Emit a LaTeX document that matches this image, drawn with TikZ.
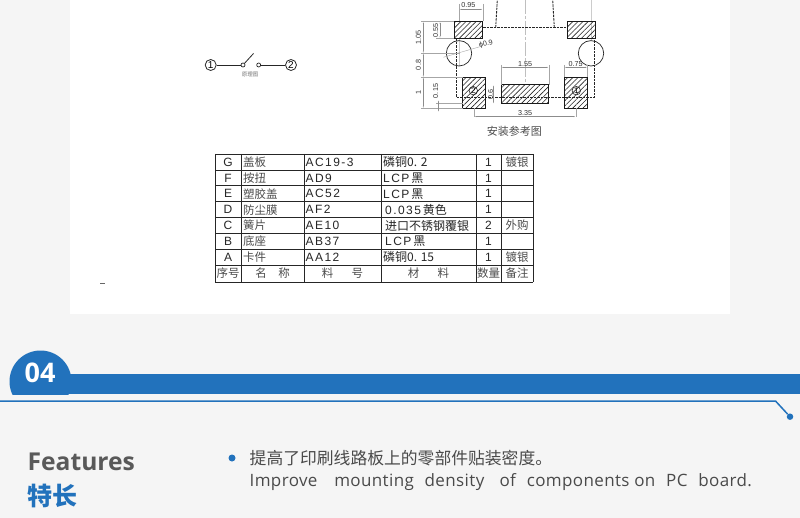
\documentclass[tikz,border=0pt]{standalone}
\usepackage{fontspec}
\setmainfont{Open Sans}
\newfontfamily\cjk{Noto Sans CJK SC}
\newfontfamily\cadfont[LetterSpace=12]{Liberation Sans}
\newfontfamily\dimfont{Liberation Sans}
\usetikzlibrary{arrows.meta, positioning, patterns.meta}
\definecolor{bannerblue}{HTML}{2272BC}
\definecolor{pagegray}{HTML}{F5F5F5}
\definecolor{headgray}{HTML}{595959}
\definecolor{bodygray}{HTML}{4A4A4A}

\begin{document}
\begin{tikzpicture}[
      x=1pt, y=-1pt,
      pad/.style={rectangle, draw=black!90, line width=.9pt, inner sep=0pt,
                  pattern={Lines[angle=45,distance=3.6pt,line width=.6pt]}, pattern color=black!85},
      hole/.style={circle, draw=black!85, line width=.7pt, minimum size=25.4pt, inner sep=0pt},
      outline/.style={black!85, line width=.9pt, dashed, dash pattern=on 2.5pt off 1pt},
      dimline/.style={black!45, line width=.4pt, {Latex[length=2pt,width=1pt]}-{Latex[length=2pt,width=1pt]}},
      extline/.style={black!35, line width=.4pt},
      dimtext/.style={font=\dimfont\fontsize{7.2}{8}\selectfont, text=black!80, inner sep=0pt},
      pinmark/.style={circle, draw=black!85, line width=.6pt, minimum size=8.5pt, inner sep=0pt,
                   font=\dimfont\fontsize{8}{8}\selectfont},
      endmark/.style={circle, draw=black!85, line width=.8pt, minimum size=11pt, inner sep=0pt,
                   font=\dimfont\fontsize{10}{10}\selectfont},
      contact/.style={circle, draw=black!85, line width=.7pt, minimum size=4pt, inner sep=0pt},
      cell/.style={inner sep=0pt, text=black!85, font=\cadfont\fontsize{12}{12}\selectfont},
      cjkcell/.style={inner sep=0pt, text=black!70, font=\cjk\fontsize{11.5}{12}\selectfont},
      gridline/.style={black!85, line width=.8pt}
    ]
    \useasboundingbox (0,0) rectangle (800,518);
    \fill[pagegray] (0,0) rectangle (800,518);
    \fill[white] (70,0) rectangle (730,314);

    % switch symbol
    \node[endmark] (sw1) at (210.7,65) {1};
    \node[contact] (swa) at (243,65) {};
    \node[contact] (swb) at (258.7,65) {};
    \node[endmark] (sw2) at (291,65) {2};
    \coordinate (swtip) at (253.5,53.5);
    \draw[black!85, line width=.8pt] (sw1) -- (swa);
    \draw[black!85, line width=.8pt] (swb) -- (sw2);
    \draw[black!85, line width=.8pt] (swa) -- (swtip);
    \node[text=black!55, inner sep=0pt, font=\cjk\fontsize{5.5}{6}\selectfont] (swlabel) at (250,75) {原理图};

    % center lines
    \draw[black!25, line width=.8pt, dash pattern=on 14pt off 2pt on 3pt off 2pt] (525,0) -- (525,85);
    \draw[black!20, line width=.6pt] (591,0) -- (591,40);
    \draw[black!20, line width=.6pt] (459,38) -- (459,66);

    % footprint outline
    \node[pad, minimum width=28.4pt, minimum height=16.6pt] (padtl) at (468.5,30) {};
    \node[pad, minimum width=28.4pt, minimum height=16.6pt] (padtr) at (581.5,30) {};
    \node[pad, minimum width=23pt, minimum height=31pt] (padbl) at (474.2,92.8) {};
    \node[pad, minimum width=23pt, minimum height=31pt] (padbr) at (575.8,92.8) {};
    \node[pad, minimum width=47.4pt, minimum height=18.7pt] (padmid) at (525,94.3) {};
    \node[hole] (holel) at (459,53.3) {};
    \node[hole] (holer) at (591,53.3) {};
    \coordinate (cornerbl) at (456,97.3);
    \coordinate (cornerbr) at (594.3,97.3);
    \draw[outline] (padtl.east |- 0,27.7) -- (padtr.west |- 0,27.7);
    \draw[outline] (456,38.3) -- (cornerbl) -- (cornerbr) -- (594.3,38.3);
    \draw[outline] (495.7,27.7) -- (497.3,0);
    \draw[outline] (554.3,27.7) -- (552.7,0);

    \node[pinmark] (pin2) at (473.3,90.7) {2};
    \node[pinmark] (pin1) at (576.3,90.7) {1};

    % dimensions
    \draw[extline] (459.3,4) -- (459.3,21);
    \draw[extline] (482.7,4) -- (482.7,21);
    \draw[dimline] (459.3,9.3) -- (482.7,9.3);
    \node[dimtext] (d095) at (468.3,5) {0.95};

    \draw[extline] (421,21.7) -- (454,21.7);
    \draw[extline] (421,53.3) -- (460,53.3);
    \draw[extline] (421,77.3) -- (462.7,77.3);
    \draw[extline] (421,108.3) -- (462.7,108.3);
    \draw[dimline] (423.3,21.7) -- (423.3,53.3);
    \draw[dimline] (423.3,53.3) -- (423.3,77.3);
    \draw[dimline] (423.3,77.3) -- (423.3,108.3);
    \node[dimtext, rotate=90] (d105) at (418.3,37.3) {1.05};
    \node[dimtext, rotate=90] (d08) at (418.3,65) {0.8};
    \node[dimtext, rotate=90] (d1) at (418.3,92.7) {1};

    \draw[extline] (436,38.3) -- (454,38.3);
    \draw[dimline] (440,21.7) -- (440,38.3);
    \node[dimtext, rotate=90] (d055) at (435.7,30.7) {0.55};

    \draw[extline] (436,103.3) -- (462.7,103.3);
    \draw[dimline] (438.5,100) -- (438.5,112);
    \node[dimtext, rotate=90] (d015) at (435.7,91) {0.15};

    \draw[dimline] (493.5,85) -- (493.5,103.7);
    \node[dimtext, rotate=90] (d06) at (490.7,94.3) {0.6};

    \draw[extline] (501.3,65) -- (501.3,85);
    \draw[extline] (548.7,65) -- (548.7,85);
    \draw[dimline] (501.3,67.3) -- (548.7,67.3);
    \node[dimtext] (d155) at (525,64) {1.55};

    \draw[extline] (564.3,65) -- (564.3,77.3);
    \draw[extline] (587.3,65) -- (587.3,77.3);
    \draw[dimline] (564.3,67.3) -- (587.3,67.3);
    \node[dimtext] (d075) at (575.7,64) {0.75};

    \draw[extline] (474.3,108.3) -- (474.3,117);
    \draw[extline] (575.7,108.3) -- (575.7,117);
    \draw[dimline] (474.3,116.7) -- (575.7,116.7);
    \node[dimtext] (d335) at (525,113.3) {3.35};

    \node[dimtext, rotate=15] (dhole) at (486,44.3) {ϕ0.9};
    \draw[extline] (443.3,57.3) -- (480,46.7);

    \node[text=black!70, inner sep=0pt, font=\cjk\fontsize{11}{12}\selectfont] (caption) at (514.3,131.7) {安装参考图};

    % parts table
    \foreach \ypos in {154,170,185.7,201.7,217.7,233.3,249.3,265.3,282}
      \draw[gridline] (215,\ypos) -- (533,\ypos);
    \foreach \xpos in {215,241,304,381,476,501,533}
      \draw[gridline] (\xpos,154) -- (\xpos,282);

    \foreach \rowid/\ypos/\nm/\code/\mat/\qty/\note in {
        G/162/盖板/AC19-3/{\cjk 磷铜0. 2}/1/镀银,
        F/177.9/按扭/AD9/{LCP\,\cjk 黑}/1/,
        E/193.7/塑胶盖/AC52/{LCP\,\cjk 黑}/1/,
        D/209.7/防尘膜/AF2/{\,0.035\,\cjk 黄色}/1/,
        C/225.5/簧片/AE10/{\,\cjk 进口不锈钢覆银}/2/外购,
        B/241.3/底座/AB37/{\,LCP\,\cjk 黑}/1/,
        A/257.3/卡件/AA12/{\cjk 磷铜0. 15}/1/镀银} {
      \node[cell] (\rowid-id) at (228,\ypos) {\rowid};
      \node[cjkcell, anchor=west] (\rowid-name) at (243,\ypos) {\nm};
      \node[cell, anchor=west] (\rowid-code) at (305.5,\ypos) {\code};
      \node[cell, anchor=west] (\rowid-mat) at (383,\ypos) {\mat};
      \node[cell] (\rowid-qty) at (488.5,\ypos) {\qty};
      \node[cjkcell] (\rowid-note) at (517,\ypos) {\note};
    }
    \node[cjkcell] (head-id) at (228,273.6) {序号};
    \node[cjkcell] (head-name) at (272.5,273.6) {名\hspace{1em}称};
    \node[cjkcell] (head-code) at (342.5,273.6) {料\hspace{1.6em}号};
    \node[cjkcell] (head-mat) at (428.5,273.6) {材\hspace{1.6em}料};
    \node[cjkcell] (head-qty) at (488.5,273.6) {数量};
    \node[cjkcell] (head-note) at (517,273.6) {备注};

    \draw[black!60, line width=.6pt] (100,283.5) -- (105,283.5);

    % section banner
    \begin{scope}
      \clip (0,340) rectangle (800,394);
      \fill[bannerblue] (40.5,381.5) circle (31);
    \end{scope}
    \fill[bannerblue] (60,374) rectangle (800,394);
    \node[text=white, inner sep=0pt, font=\bfseries\fontsize{27}{30}\selectfont] (secnum) at (40,373) {04};

    \coordinate (railstart) at (0,401);
    \coordinate (railbend) at (775.5,401);
    \node[circle, fill=bannerblue, minimum size=6.5pt, inner sep=0pt] (raildot) at (790,416.7) {};
    \draw[bannerblue, line width=1.5pt] (railstart) -- (railbend) -- (raildot);

    % features
    \node[anchor=west, inner sep=0pt, text=headgray, font=\bfseries\fontsize{24.6}{30}\selectfont] (feat) at (27.5,461.5) {Features};
    \node[anchor=west, inner sep=0pt, text=bannerblue, font=\cjk\bfseries\fontsize{25}{30}\selectfont] (featcn) at (27,495.5) {特长};
    \node[circle, fill=bannerblue, minimum size=7pt, inner sep=0pt] (bullet) at (232,458) {};
    \node[anchor=west, inner sep=0pt, text=bodygray, font=\cjk\fontsize{16.8}{20}\selectfont] (cntext) at (249.5,458) {提高了印刷线路板上的零部件贴装密度。};
    \node[anchor=west, inner sep=0pt, text=bodygray, font=\addfontfeature{LetterSpace=2.2}\fontsize{17}{20}\selectfont] (entext) at (249.5,482)
      {Improve \hspace{12pt}mounting \hspace{6pt}density \hspace{10.5pt}of \hspace{6pt}components on \hspace{6pt}PC \hspace{6pt}board.};
\end{tikzpicture}
\end{document}
